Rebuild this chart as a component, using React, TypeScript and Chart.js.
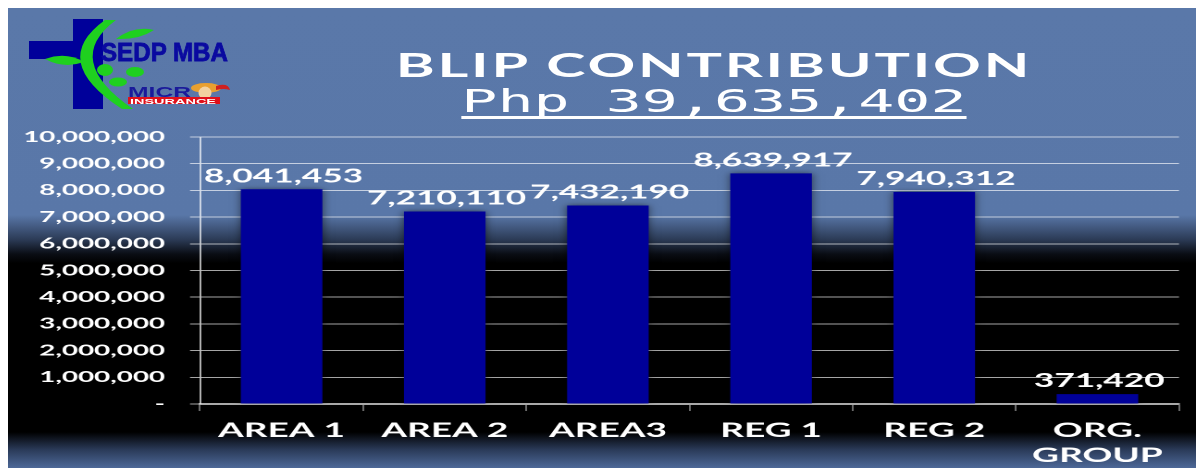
import React, { useEffect, useRef } from "react";
import { Chart, registerables } from "chart.js";
Chart.register(...registerables);

// ---- data ----
const categories: (string | string[])[] = ["AREA 1", "AREA 2", "AREA3", "REG 1", "REG 2", ["ORG.", "GROUP"]];
const contributions: number[] = [8041453, 7210110, 7432190, 8639917, 7940312, 371420];
const yTickMax = 10000000;
const yTickStep = 1000000;
const titleLine1 = "BLIP CONTRIBUTION";
const titleLine2 = "Php\u00a039,635,402";

// ---- layout ----
const BASE_W = 642;
const H = 460;
const S = 1188 / BASE_W; // horizontal stretch of the slide

const fmt = (v: number) => Number(v).toLocaleString("en-US");

const barShadowAndLabels = {
  id: "barShadowAndLabels",
  beforeDatasetsDraw(chart: any) {
    const c = chart.ctx;
    c.save();
    c.shadowColor = "rgba(0,0,0,0.55)";
    c.shadowBlur = 10;
  },
  afterDatasetsDraw(chart: any) {
    const c = chart.ctx;
    c.restore();
    const meta = chart.getDatasetMeta(0);
    const data = chart.data.datasets[0].data as number[];
    c.save();
    c.font = "bold 19px Lato";
    c.fillStyle = "#ffffff";
    c.textAlign = "center";
    c.textBaseline = "alphabetic";
    meta.data.forEach((el: any, i: number) => {
      c.fillText(fmt(data[i]), el.x + 1, el.y - 7);
    });
    c.restore();
  },
};

function Logo() {
  const green = "#1fd01f";
  const navy = "#00009a";
  return (
    <svg width={240} height={110} style={{ position: "absolute", left: 0, top: 0 }}>
      <rect x={65} y={11} width={30} height={90} fill={navy} />
      <rect x={21} y={33} width={74} height={18} fill={navy} />
      <path d="M97,12 Q40,53 114,101 L125,101 Q54,52 108,12 Z" fill={green} />
      <path d="M76,54 Q58,43 37,51 Q56,61 76,54 Z" fill={green} />
      <path d="M108,31 Q126,17 146,22 Q131,32 108,31 Z" fill={green} />
      <ellipse cx={97} cy={62} rx={8} ry={6} fill={green} />
      <ellipse cx={127} cy={64} rx={9} ry={5} fill={green} />
      <ellipse cx={110} cy={74} rx={9} ry={4.5} fill={green} />
      <text x={93} y={53} fontFamily="Liberation Sans, Arial, sans-serif" fontWeight="bold" fontSize={26}
        fill="#0a0aa0" stroke="#0a0aa0" strokeWidth={0.8} textLength={127} lengthAdjust="spacingAndGlyphs">SEDP MBA</text>
      <text x={120} y={89} fontFamily="Liberation Sans, Arial, sans-serif" fontWeight="bold" fontSize={15}
        fill="#1a1a9a" textLength={63} lengthAdjust="spacingAndGlyphs">MICR</text>
      <ellipse cx={198} cy={80} rx={15} ry={5} fill="#e8a030" />
      <circle cx={197} cy={85} r={6.5} fill="#f2d2a0" />
      <path d="M208,78 Q220,74 222,82 Q216,80 208,82 Z" fill="#d02020" />
      <rect x={120} y={89} width={92} height={7} fill="#e0101a" />
      <text x={122} y={95.5} fontFamily="Liberation Sans, Arial, sans-serif" fontWeight="bold" fontSize={7.5}
        fill="#ffffff" textLength={86} lengthAdjust="spacingAndGlyphs">INSURANCE</text>
    </svg>
  );
}

export default function App() {
  const ref = useRef<HTMLCanvasElement>(null);

  useEffect(() => {
    if (!ref.current) return;
    const chart = new Chart(ref.current, {
      type: "bar",
      data: {
        labels: categories,
        datasets: [
          {
            data: contributions,
            backgroundColor: "#000099",
            borderWidth: 0,
            categoryPercentage: 1,
            barPercentage: 0.5,
          },
        ],
      },
      options: {
        animation: false,
        responsive: true,
        maintainAspectRatio: false,
        devicePixelRatio: 2,
        layout: { padding: { top: 129, right: 9.2, bottom: 0, left: 0 } },
        plugins: {
          legend: { display: false },
          tooltip: { enabled: false },
          title: { display: false },
        },
        scales: {
          x: {
            grid: {
              display: true,
              drawOnChartArea: false,
              drawTicks: true,
              tickLength: 7,
              color: "rgba(255,255,255,0.6)",
              lineWidth: 0.7,
              offset: true,
            },
            border: { display: true, color: "rgba(255,255,255,0.5)", width: 2 },
            ticks: {
              color: "#ffffff",
              font: { family: "Lato", size: 20, weight: "bold", lineHeight: 1.25 },
              padding: 7,
              maxRotation: 0,
              autoSkip: false,
            },
            afterFit: (s: any) => {
              s.height = 64;
            },
          },
          y: {
            min: 0,
            max: yTickMax,
            grid: {
              color: (ctx: any) =>
                ctx.tick && ctx.tick.value === yTickMax ? "rgba(255,255,255,0.32)" : "rgba(255,255,255,0.65)",
              lineWidth: (ctx: any) => (ctx.tick && ctx.tick.value === yTickMax ? 2 : 1),
              drawTicks: true,
              tickLength: 5.4,
            },
            border: { display: true, color: "#ffffff", width: 0.7 },
            ticks: {
              stepSize: yTickStep,
              color: "#ffffff",
              padding: 13.5,
              font: { family: "Lato", size: 15, weight: "bold" },
              callback: (v: any) => (Number(v) === 0 ? "-" : fmt(Number(v))),
            },
            afterFit: (s: any) => {
              s.width = 103.75;
            },
          },
        },
      } as any,
      plugins: [barShadowAndLabels],
    });
    return () => chart.destroy();
  }, []);

  return (
    <div
      style={{
        position: "absolute",
        left: 8,
        top: 8,
        width: 1188,
        height: H,
        overflow: "hidden",
        background:
          "linear-gradient(to bottom, #5a78a9 0%, #5977a8 45%, #2b3a55 50.4%, #0a0d14 53.5%, #000 55.5%, #000 92.2%, #2a3a58 96%, #4d6898 100%)",
      }}
    >
      <div
        style={{
          position: "absolute",
          left: 0,
          top: 0,
          width: BASE_W,
          height: H,
          transform: `scaleX(${S})`,
          transformOrigin: "0 0",
        }}
      >
        <canvas ref={ref} style={{ display: "block" }} />
        <div
          style={{
            position: "absolute",
            left: 0,
            top: 38.6,
            width: 763,
            textAlign: "center",
            color: "#ffffff",
            whiteSpace: "nowrap",
            lineHeight: "36px",
          }}
        >
          <div style={{ fontFamily: "Lato, sans-serif", fontWeight: 700, fontSize: 32, letterSpacing: "1.5px" }}>
            {titleLine1}
          </div>
          <div style={{ fontFamily: "'DejaVu Sans Mono', monospace", fontWeight: 400, fontSize: 32.4 }}>
            <span
              style={{
                textDecorationLine: "underline",
                textDecorationThickness: "3px",
                textUnderlineOffset: "4px",
                textDecorationSkipInk: "none",
              }}
            >
              {titleLine2}
            </span>
          </div>
        </div>
      </div>
      <Logo />
    </div>
  );
}
